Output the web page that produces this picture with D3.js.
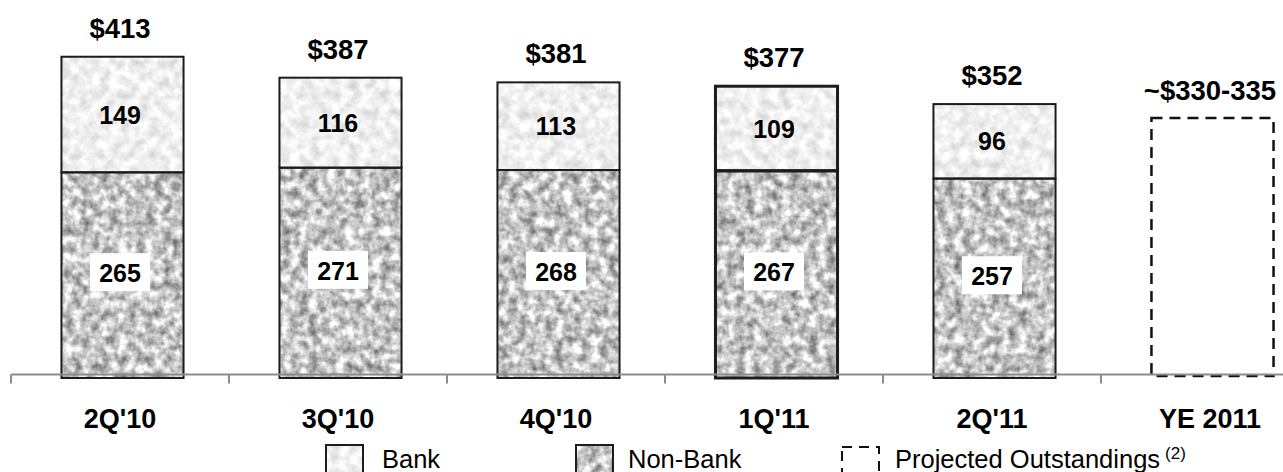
<!DOCTYPE html>
<html>
<head>
<meta charset="utf-8">
<script src="https://cdn.jsdelivr.net/npm/d3@7"></script>
<style>
  html, body { margin: 0; padding: 0; background: #fff; }
  svg { display: block; }
  text { font-family: Arial, "Liberation Sans", Helvetica, sans-serif; }
</style>
</head>
<body>
<svg id="chart" width="1283" height="472"></svg>
<script>
// Loans outstanding by quarter, split into Bank and Non-Bank ($ billions)
const categories     = ["2Q'10", "3Q'10", "4Q'10", "1Q'11", "2Q'11", "YE 2011"];
const bankValues     = [149, 116, 113, 109, 96];
const nonBankValues  = [265, 271, 268, 267, 257];
const totalLabels    = ["$413", "$387", "$381", "$377", "$352"];
const projectedValue = 335;            // upper end of the year-end range
const projectedLabel = "~$330-335";
const legendItems    = ["Bank", "Non-Bank", "Projected Outstandings"];

const W = 1283, H = 472;
const svg = d3.select("#chart");

// granite-like textures for the two segment types
const defs = svg.append("defs");
function granite(id, gain, offset, freq, seed) {
  const f = defs.append("filter")
    .attr("id", id)
    .attr("x", 0).attr("y", 0).attr("width", 1).attr("height", 1)
    .attr("color-interpolation-filters", "sRGB");
  f.append("feTurbulence")
    .attr("type", "fractalNoise")
    .attr("baseFrequency", freq)
    .attr("numOctaves", 3)
    .attr("seed", seed)
    .attr("result", "noise");
  const row = `${gain} 0 0 0 ${offset}`;
  f.append("feColorMatrix")
    .attr("in", "noise")
    .attr("type", "matrix")
    .attr("values", `${row} ${row} ${row} 0 0 0 0 1`)
    .attr("result", "gray");
  f.append("feComposite")
    .attr("in", "gray").attr("in2", "SourceGraphic").attr("operator", "in");
}
granite("tex-bank", 0.3, 0.79, 0.1, 7);
granite("tex-nonbank", 0.95, 0.3, 0.11, 3);

// scales
const x = d3.scaleBand()
  .domain(categories)
  .range([11, 11 + 218 * categories.length])
  .paddingInner(0.44)
  .paddingOuter(0.22);
const barShift = 2.5;
const y = d3.scaleLinear().domain([0, 400]).range([378, 378 - 310.4]);

const stacked = categories.slice(0, bankValues.length).map((c, i) => ({
  cat: c,
  bank: bankValues[i],
  nonBank: nonBankValues[i],
  total: totalLabels[i]
}));

const bars = svg.append("g").attr("class", "bars");
const bw = x.bandwidth();

// Non-Bank (bottom) segments
bars.selectAll("rect.nonbank")
  .data(stacked).join("rect")
  .attr("class", "nonbank")
  .attr("x", d => x(d.cat) + barShift)
  .attr("width", bw)
  .attr("y", d => y(d.nonBank))
  .attr("height", d => y(0) - y(d.nonBank))
  .attr("fill", "#000")
  .attr("filter", "url(#tex-nonbank)");

// Bank (top) segments
bars.selectAll("rect.bank")
  .data(stacked).join("rect")
  .attr("class", "bank")
  .attr("x", d => x(d.cat) + barShift)
  .attr("width", bw)
  .attr("y", d => y(d.nonBank + d.bank))
  .attr("height", d => y(d.nonBank) - y(d.nonBank + d.bank))
  .attr("fill", "#000")
  .attr("filter", "url(#tex-bank)");

// outlines of each segment
const outline = d => d.cat === "1Q'11" ? 3 : 2;
bars.selectAll("rect.nb-edge")
  .data(stacked).join("rect")
  .attr("class", "nb-edge")
  .attr("x", d => x(d.cat) + barShift)
  .attr("width", bw)
  .attr("y", d => y(d.nonBank))
  .attr("height", d => y(0) - y(d.nonBank))
  .attr("fill", "none")
  .attr("stroke", "#1c1c1c")
  .attr("stroke-width", outline);
bars.selectAll("rect.b-edge")
  .data(stacked).join("rect")
  .attr("class", "b-edge")
  .attr("x", d => x(d.cat) + barShift)
  .attr("width", bw)
  .attr("y", d => y(d.nonBank + d.bank))
  .attr("height", d => y(d.nonBank) - y(d.nonBank + d.bank))
  .attr("fill", "none")
  .attr("stroke", "#1c1c1c")
  .attr("stroke-width", outline);

// projected year-end outline
const proj = categories[categories.length - 1];
svg.append("rect")
  .attr("x", x(proj) + barShift)
  .attr("width", bw)
  .attr("y", y(projectedValue))
  .attr("height", y(0) - 2 - y(projectedValue))
  .attr("fill", "none")
  .attr("stroke", "#111")
  .attr("stroke-width", 2.5)
  .attr("stroke-dasharray", "11,7");

// axis: baseline with ticks at category boundaries
const axisY = 374.5;
const axis = svg.append("g").attr("class", "axis");
axis.append("line")
  .attr("x1", x.range()[0]).attr("x2", W)
  .attr("y1", axisY).attr("y2", axisY)
  .attr("stroke", "#8c8c8c").attr("stroke-width", 2);
const bounds = d3.range(categories.length + 1).map(i => x.range()[0] + i * x.step());
axis.selectAll("line.tick")
  .data(bounds).join("line")
  .attr("class", "tick")
  .attr("x1", d => d).attr("x2", d => d)
  .attr("y1", axisY).attr("y2", axisY + 9)
  .attr("stroke", "#8c8c8c").attr("stroke-width", 2);

// category labels
axis.selectAll("text.cat")
  .data(categories).join("text")
  .attr("class", "cat")
  .attr("x", d => x(d) + bw / 2)
  .attr("y", 428)
  .attr("text-anchor", "middle")
  .attr("font-weight", "bold")
  .attr("font-size", 27)
  .text(d => d);

// total labels above bars
const labels = svg.append("g").attr("class", "labels");
labels.selectAll("text.total")
  .data(stacked).join("text")
  .attr("class", "total")
  .attr("x", d => x(d.cat) + bw / 2)
  .attr("y", d => y(d.nonBank + d.bank) - 19)
  .attr("text-anchor", "middle")
  .attr("font-weight", "bold")
  .attr("font-size", 27.5)
  .text(d => d.total);
labels.append("text")
  .attr("x", x(proj) + bw / 2)
  .attr("y", y(projectedValue) - 18)
  .attr("text-anchor", "middle")
  .attr("font-weight", "bold")
  .attr("font-size", 27.5)
  .text(projectedLabel);

// Bank segment values
labels.selectAll("text.bankv")
  .data(stacked).join("text")
  .attr("class", "bankv")
  .attr("x", d => x(d.cat) + bw / 2)
  .attr("y", d => (y(d.nonBank + d.bank) + y(d.nonBank)) / 2 + 9)
  .attr("text-anchor", "middle")
  .attr("font-weight", "bold")
  .attr("font-size", 25)
  .text(d => d.bank);

// Non-Bank segment values on white boxes
const nbMid = d => (y(d.nonBank) + y(0)) / 2 - 3;
labels.selectAll("rect.nbbox")
  .data(stacked).join("rect")
  .attr("class", "nbbox")
  .attr("x", d => x(d.cat) + bw / 2 - 30)
  .attr("y", d => nbMid(d) - 19)
  .attr("width", 60).attr("height", 38)
  .attr("fill", "#fff");
labels.selectAll("text.nbv")
  .data(stacked).join("text")
  .attr("class", "nbv")
  .attr("x", d => x(d.cat) + bw / 2)
  .attr("y", d => nbMid(d) + 10)
  .attr("text-anchor", "middle")
  .attr("font-weight", "bold")
  .attr("font-size", 25)
  .text(d => d.nonBank);

// legend
const legend = svg.append("g").attr("class", "legend");
const swatchX = [326, 576, 842];
const textX   = [382, 628, 895];
legend.selectAll("rect.sw")
  .data(legendItems.slice(0, 2)).join("rect")
  .attr("class", "sw")
  .attr("x", (d, i) => swatchX[i]).attr("y", 445)
  .attr("width", 37).attr("height", 38)
  .attr("fill", "#000")
  .attr("filter", (d, i) => i === 0 ? "url(#tex-bank)" : "url(#tex-nonbank)");
legend.selectAll("rect.swe")
  .data(legendItems.slice(0, 2)).join("rect")
  .attr("class", "swe")
  .attr("x", (d, i) => swatchX[i]).attr("y", 445)
  .attr("width", 37).attr("height", 38)
  .attr("fill", "none").attr("stroke", "#1c1c1c").attr("stroke-width", 2);
legend.append("rect")
  .attr("x", swatchX[2]).attr("y", 447)
  .attr("width", 37).attr("height", 38)
  .attr("fill", "none").attr("stroke", "#111")
  .attr("stroke-width", 2).attr("stroke-dasharray", "10,7");
const lt = legend.selectAll("text.lt")
  .data(legendItems).join("text")
  .attr("class", "lt")
  .attr("x", (d, i) => textX[i])
  .attr("y", 467.5)
  .attr("font-size", 25.5)
  .text(d => d);
lt.filter((d, i) => i === 2)
  .append("tspan")
  .attr("dx", 5).attr("dy", -9)
  .attr("font-size", 17)
  .text("(2)");
</script>
</body>
</html>
